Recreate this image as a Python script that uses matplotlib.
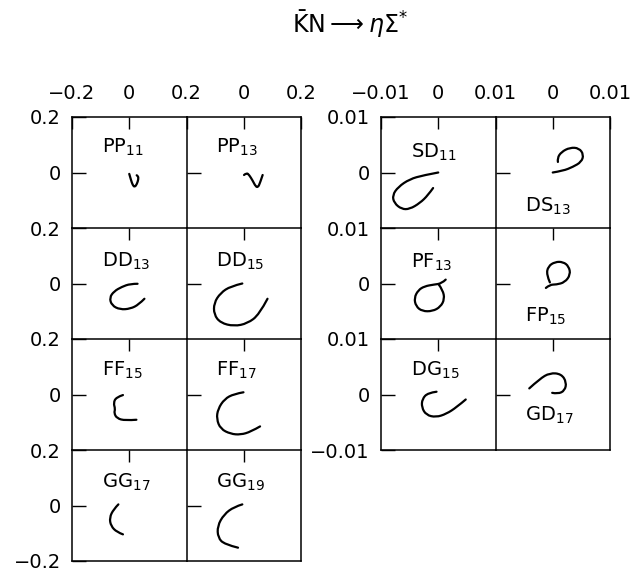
import numpy as np
import matplotlib.pyplot as plt
from matplotlib.path import Path
from matplotlib.patches import PathPatch

plt.rcParams['font.family'] = 'DejaVu Sans'
plt.rcParams['mathtext.fontset'] = 'dejavusans'
plt.rcParams['font.size'] = 14

## Argand loops (Re, Im)
## left block: range -0.2..0.2
pp11_re = [0.000, 0.006, 0.012, 0.019, 0.027, 0.032, 0.031, 0.026]
pp11_im = [-0.005, -0.027, -0.045, -0.053, -0.041, -0.024, -0.013, -0.010]
pp13_re = [0.001, 0.010, 0.019, 0.031, 0.042, 0.050, 0.057, 0.066]
pp13_im = [-0.009, -0.001, -0.009, -0.029, -0.051, -0.053, -0.037, -0.009]
dd13_re = [0.029, 0.004, -0.026, -0.053, -0.069, -0.061, -0.032, 0.004, 0.033, 0.053]
dd13_im = [-0.001, -0.001, -0.012, -0.028, -0.051, -0.079, -0.094, -0.091, -0.076, -0.055]
dd15_re = [-0.005, -0.046, -0.081, -0.104, -0.104, -0.081, -0.034, 0.013, 0.054, 0.083]
dd15_im = [0.000, -0.010, -0.034, -0.070, -0.112, -0.142, -0.154, -0.144, -0.112, -0.055]
ff15_re = [-0.022, -0.046, -0.055, -0.049, -0.053, -0.043, -0.014, 0.025]
ff15_im = [-0.002, -0.010, -0.031, -0.052, -0.067, -0.086, -0.094, -0.091]
ff17_re = [-0.001, -0.034, -0.067, -0.090, -0.095, -0.081, -0.046, -0.011, 0.025, 0.057]
ff17_im = [0.008, 0.002, -0.016, -0.052, -0.088, -0.124, -0.142, -0.145, -0.134, -0.115]
gg17_re = [-0.038, -0.055, -0.069, -0.064, -0.043, -0.022]
gg17_im = [0.004, -0.014, -0.044, -0.074, -0.096, -0.104]
gg19_re = [-0.005, -0.034, -0.069, -0.092, -0.090, -0.067, -0.020]
gg19_im = [0.004, -0.005, -0.032, -0.074, -0.116, -0.140, -0.152]

## right block: range -0.01..0.01
sd11_re = [0.0000, -0.0026, -0.0050, -0.0070, -0.0080, -0.0077, -0.0064, -0.0050, -0.0032, -0.0018, -0.0009]
sd11_im = [0.0000, -0.0005, -0.0012, -0.0026, -0.0041, -0.0055, -0.0066, -0.0066, -0.0055, -0.0041, -0.0028]
ds13_re = [0.0000, 0.0018, 0.0035, 0.0050, 0.0054, 0.0046, 0.0030, 0.0015, 0.0008, 0.0009]
ds13_im = [0.0000, 0.0003, 0.0010, 0.0019, 0.0032, 0.0044, 0.0045, 0.0037, 0.0026, 0.0019]
pf13_re = [0.0013, 0.0006, -0.0008, -0.0024, -0.0035, -0.0042, -0.0039, -0.0028, -0.0010, 0.0004, 0.0011, 0.0008, 0.0001]
pf13_im = [0.0007, 0.0000, -0.0002, -0.0005, -0.0012, -0.0026, -0.0041, -0.0050, -0.0050, -0.0042, -0.0028, -0.0012, -0.0002]
fp15_re = [-0.0012, -0.0005, 0.0006, 0.0021, 0.0031, 0.0028, 0.0018, 0.0004, -0.0008, -0.0011, -0.0005]
fp15_im = [-0.0008, -0.0002, -0.0002, 0.0002, 0.0016, 0.0031, 0.0039, 0.0039, 0.0031, 0.0016, 0.0002]
dg15_re = [-0.0003, -0.0018, -0.0028, -0.0029, -0.0021, -0.0004, 0.0014, 0.0032, 0.0048]
dg15_im = [0.0005, 0.0003, -0.0008, -0.0023, -0.0037, -0.0041, -0.0035, -0.0023, -0.0009]
gd17_re = [-0.0041, -0.0023, -0.0005, 0.0015, 0.0024, 0.0021, 0.0009, -0.0001]
gd17_im = [0.0011, 0.0028, 0.0039, 0.0037, 0.0022, 0.0007, 0.0001, 0.0003]

left_names = [['PP$_{11}$', 'PP$_{13}$'], ['DD$_{13}$', 'DD$_{15}$'],
              ['FF$_{15}$', 'FF$_{17}$'], ['GG$_{17}$', 'GG$_{19}$']]
left_curves = [[(pp11_re, pp11_im), (pp13_re, pp13_im)],
               [(dd13_re, dd13_im), (dd15_re, dd15_im)],
               [(ff15_re, ff15_im), (ff17_re, ff17_im)],
               [(gg17_re, gg17_im), (gg19_re, gg19_im)]]
right_names = [['SD$_{11}$', 'DS$_{13}$'], ['PF$_{13}$', 'FP$_{15}$'], ['DG$_{15}$', 'GD$_{17}$']]
right_curves = [[(sd11_re, sd11_im), (ds13_re, ds13_im)],
                [(pf13_re, pf13_im), (fp15_re, fp15_im)],
                [(dg15_re, dg15_im), (gd17_re, gd17_im)]]
left_label_y = [[0.68, 0.68], [0.65, 0.65], [0.67, 0.67], [0.66, 0.66]]
right_label_y = [[0.63, 0.15], [0.64, 0.16], [0.67, 0.26]]

left_lim, left_str = 0.2, '0.2'
right_lim, right_str = 0.01, '0.01'

W, H = 643, 575
fig = plt.figure(figsize=(W / 100, H / 100), dpi=100)


def cell(x0, y0, w, h):
    return fig.add_axes([x0 / W, 1 - (y0 + h) / H, w / W, h / H])


def smooth(xs, ys):
    # quadratic bezier through the midpoints, read points as control points
    pts = list(zip(xs, ys))
    verts, codes = [pts[0]], [Path.MOVETO]
    for i in range(1, len(pts) - 1):
        if i == len(pts) - 2:
            end = pts[-1]
        else:
            end = ((pts[i][0] + pts[i + 1][0]) / 2, (pts[i][1] + pts[i + 1][1]) / 2)
        verts += [pts[i], end]
        codes += [Path.CURVE3, Path.CURVE3]
    return Path(verts, codes)


def block(x0, names, curves, lim, s, label_y):
    nrow = len(names)
    for r in range(nrow):
        for c in range(2):
            ax = cell(x0 + c * 114.5, 117 + r * 111, 114.5, 111)
            re, im = curves[r][c]
            ax.add_patch(PathPatch(smooth(re, im), fill=False, edgecolor='k', lw=1.6,
                                   capstyle='round', joinstyle='round'))
            ax.set_xlim(-lim, lim)
            ax.set_ylim(-lim, lim)
            for sp in ax.spines.values():
                sp.set_linewidth(1.1)
            if c == 0:
                ax.spines['right'].set_visible(False)
            if r < nrow - 1:
                ax.spines['bottom'].set_visible(False)
            ax.text(0.26, label_y[r][c], names[r][c], transform=ax.transAxes,
                    ha='left', va='baseline', fontsize=14)
            if r == 0:
                ax.set_xticks([-lim, 0, lim])
                ax.set_xticklabels(['\u2212' + s if c == 0 else '', '0', s])
            else:
                ax.set_xticks([0])
                ax.set_xticklabels([''])
            if c == 0:
                ax.set_yticks([-lim, 0, lim])
                ax.set_yticklabels(['\u2212' + s if r == nrow - 1 else '', '0', s])
            else:
                ax.set_yticks([0])
                ax.set_yticklabels([''])
            ax.tick_params(axis='x', direction='in', length=8.5, width=1, top=True, bottom=False,
                           labeltop=(r == 0), labelbottom=False, pad=10)
            ax.tick_params(axis='y', direction='in', length=10, width=1, left=True, right=False,
                           labelleft=(c == 0), pad=8)


block(72, left_names, left_curves, left_lim, left_str, left_label_y)
block(381, right_names, right_curves, right_lim, right_str, right_label_y)

fig.text(350 / W, 1 - 24 / H, r'$\bar{\mathrm{K}}\mathrm{N}\longrightarrow\eta\Sigma^{*}$',
         ha='center', va='center', fontsize=17)

fig.savefig('out.png', dpi=100)
